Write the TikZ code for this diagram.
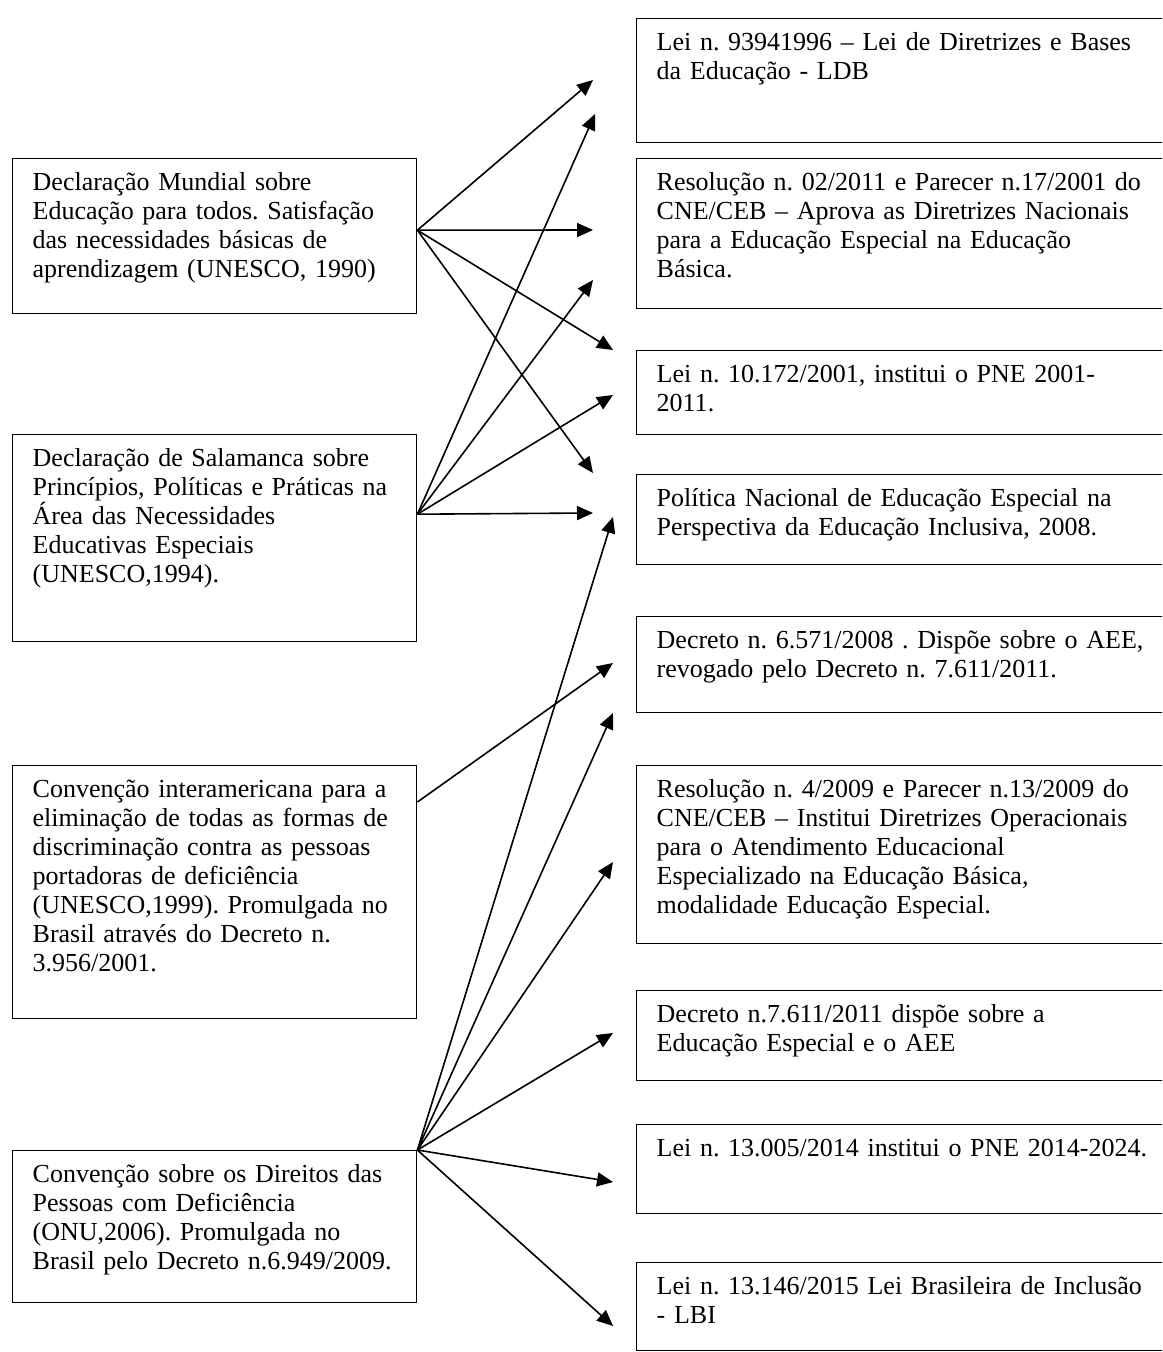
\documentclass[tikz,border=0pt]{standalone}
\usepackage{fontspec}
\setmainfont{Liberation Serif}
\usetikzlibrary{arrows.meta}
\frenchspacing

\begin{document}
\begin{tikzpicture}[x=0.5pt, y=-0.5pt,
  caixa/.style={draw, line width=0.7pt, anchor=north west, align=left,
    inner xsep=10pt, inner ysep=7pt, text height=8.7pt,
    font=\fontsize{13}{14.5}\selectfont},
  esq/.style={caixa, text width=182pt},
  dir/.style={caixa, text width=262pt},
  seta/.style={-{Triangle[length=8pt,width=7pt]}, line width=0.8pt}]
  \useasboundingbox (0,0) rectangle (1162,1352);
  \clip (0,0) rectangle (1162,1352);

  \node[esq, text depth=54.8pt] (mundial) at (12,158)
    {Declaração Mundial sobre\\ Educação para todos. Satisfação\\ das necessidades básicas de\\ aprendizagem (UNESCO, 1990)};
  \node[esq, text depth=80.8pt] (salamanca) at (12,434)
    {Declaração de Salamanca sobre\\ Princípios, Políticas e Práticas na\\ Área das Necessidades\\ Educativas Especiais\\ (UNESCO,1994).};
  \node[esq, text depth=103.8pt] (interamericana) at (12,765)
    {Convenção interamericana para a\\ eliminação de todas as formas de\\ discriminação contra as pessoas\\ portadoras de deficiência\\ (UNESCO,1999). Promulgada no\\ Brasil através do Decreto n.\\ 3.956/2001.};
  \node[esq, text depth=53.3pt] (onu) at (12,1150)
    {Convenção sobre os Direitos das\\ Pessoas com Deficiência\\ (ONU,2006). Promulgada no\\ Brasil pelo Decreto n.6.949/2009.};

  \node[dir, text depth=39.3pt] (ldb) at (636,18)
    {Lei n. 93941996 – Lei de Diretrizes e Bases\\ da Educação - LDB};
  \node[dir, text depth=52.3pt] (res2001) at (636,158)
    {Resolução n. 02/2011 e Parecer n.17/2001 do\\ CNE/CEB – Aprova as Diretrizes Nacionais\\ para a Educação Especial na Educação\\ Básica.};
  \node[dir, text depth=19.3pt] (pne2001) at (636,350)
    {Lei n. 10.172/2001, institui o PNE 2001-\\ 2011.};
  \node[dir, text depth=22.3pt] (politica) at (636,474)
    {Política Nacional de Educação Especial na\\ Perspectiva da Educação Inclusiva, 2008.};
  \node[dir, text depth=25.3pt] (dec6571) at (636,616)
    {Decreto n. 6.571/2008 . Dispõe sobre o AEE,\\ revogado pelo Decreto n. 7.611/2011.};
  \node[dir, text depth=66.3pt] (res2009) at (636,765)
    {Resolução n. 4/2009 e Parecer n.13/2009 do\\ CNE/CEB – Institui Diretrizes Operacionais\\ para o Atendimento Educacional\\ Especializado na Educação Básica,\\ modalidade Educação Especial.};
  \node[dir, text depth=22.3pt] (dec7611) at (636,990)
    {Decreto n.7.611/2011 dispõe sobre a\\ Educação Especial e o AEE};
  \node[dir, text depth=21.8pt] (pne2014) at (636,1124)
    {Lei n. 13.005/2014 institui o PNE 2014-2024.};
  \node[dir, text depth=21.3pt] (lbi) at (636,1262)
    {Lei n. 13.146/2015 Lei Brasileira de Inclusão\\ - LBI};

  \coordinate (omundial) at ([yshift=3pt]mundial.east);
  \coordinate (osalamanca) at ([yshift=12pt]salamanca.east);
  \coordinate (ointer) at ([yshift=-18.5pt]interamericana.north east);
  \coordinate (oonu) at (onu.north east);

  \coordinate (m1) at (593,80);
  \coordinate (m2) at (593,230);
  \coordinate (m3) at (613,350);
  \coordinate (m4) at (593,473);
  \coordinate (s1) at (595,114);
  \coordinate (s2) at (593,280);
  \coordinate (s3) at (613,395);
  \coordinate (s4) at (593,513);
  \coordinate (i1) at (613,663);
  \coordinate (u1) at (613,517);
  \coordinate (u2) at (613,713);
  \coordinate (u3) at (613,862);
  \coordinate (u4) at (613,1033);
  \coordinate (u5) at (613,1182);
  \coordinate (u6) at (613,1326);

  \foreach \alvo in {m1,m2,m3,m4}
    \draw[seta] (omundial) -- (\alvo);
  \foreach \alvo in {s1,s2,s3,s4}
    \draw[seta] (osalamanca) -- (\alvo);
  \draw[seta] (ointer) -- (i1);
  \foreach \alvo in {u1,u2,u3,u4,u5,u6}
    \draw[seta] (oonu) -- (\alvo);
\end{tikzpicture}
\end{document}
